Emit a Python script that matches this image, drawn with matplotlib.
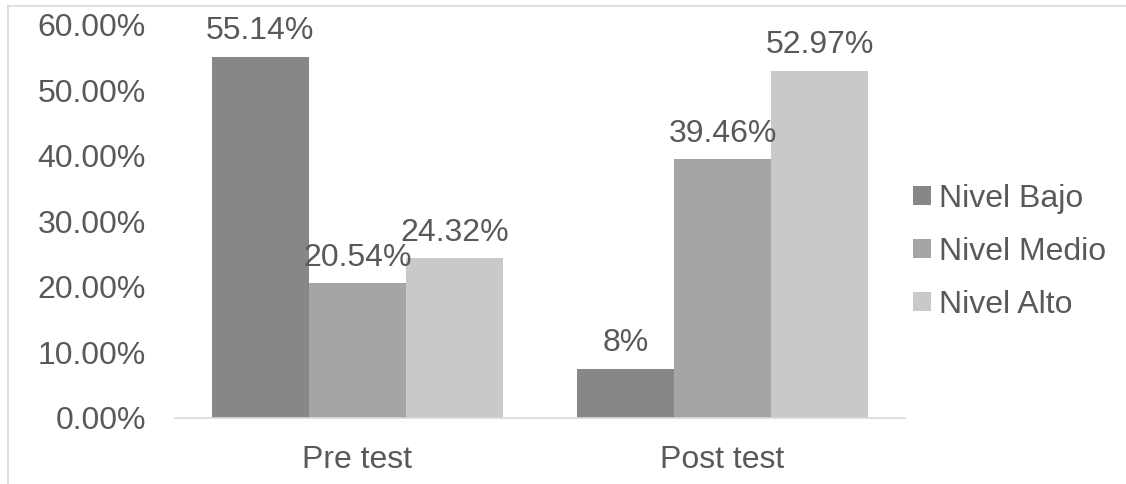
import numpy as np
import matplotlib.pyplot as plt
from matplotlib.lines import Line2D
from matplotlib.ticker import FuncFormatter

# datos del grafico
grupos = ['Pre test', 'Post test']
niveles = ['Nivel Bajo', 'Nivel Medio', 'Nivel Alto']
bajo = [55.14, 7.5]
medio = [20.54, 39.46]
alto = [24.32, 52.97]
etiquetas_bajo = ['55.14%', '8%']
etiquetas_medio = ['20.54%', '39.46%']
etiquetas_alto = ['24.32%', '52.97%']

colores = ['#878787', '#a5a5a5', '#c9c9c9']
texto = '#595959'
tam = 23

plt.rcParams['font.family'] = ['Liberation Sans', 'DejaVu Sans']

fig = plt.figure(figsize=(11.26, 4.84), dpi=100)
ax = fig.add_axes([175 / 1126, 1 - 417.7 / 484, 730 / 1126, (417.7 - 24.9) / 484])

x = np.arange(len(grupos))
ancho = 0.266
series = [bajo, medio, alto]
etiquetas = [etiquetas_bajo, etiquetas_medio, etiquetas_alto]
for i, (vals, labs) in enumerate(zip(series, etiquetas)):
    pos = x + (i - 1) * ancho
    ax.bar(pos, vals, width=ancho, color=colores[i], label=niveles[i])
    for p, v, t in zip(pos, vals, labs):
        ax.text(p, v + 1.6, t, ha='center', va='bottom', fontsize=tam, color=texto)

ax.set_xlim(-0.5, 1.5)
ax.set_ylim(0, 60)
ax.set_yticks(np.arange(0, 61, 10))
ax.yaxis.set_major_formatter(FuncFormatter(lambda v, p: f'{v:.2f}%'))
ax.set_xticks(x)
ax.set_xticklabels(grupos)
ax.tick_params(axis='both', length=0, labelsize=tam, colors=texto)
ax.tick_params(axis='y', pad=21)
ax.tick_params(axis='x', pad=20)

for s in ['top', 'right', 'left']:
    ax.spines[s].set_visible(False)
ax.spines['bottom'].set_color('#d9d9d9')
ax.spines['bottom'].set_linewidth(1.2)

fig.legend(loc='center left', bbox_to_anchor=(913 / 1126, 1 - 252 / 484), frameon=False,
           fontsize=tam, labelcolor=texto, handlelength=0.55, handleheight=0.55,
           handletextpad=0.25, labelspacing=0.72, borderaxespad=0, borderpad=0)

# borde del area del grafico
fig.add_artist(Line2D([8 / 1126, 1], [1 - 6 / 484, 1 - 6 / 484], color='#d9d9d9', lw=1.2))
fig.add_artist(Line2D([8 / 1126, 8 / 1126], [0, 1 - 6 / 484], color='#d9d9d9', lw=1.2))

fig.savefig('out.png', dpi=100)
